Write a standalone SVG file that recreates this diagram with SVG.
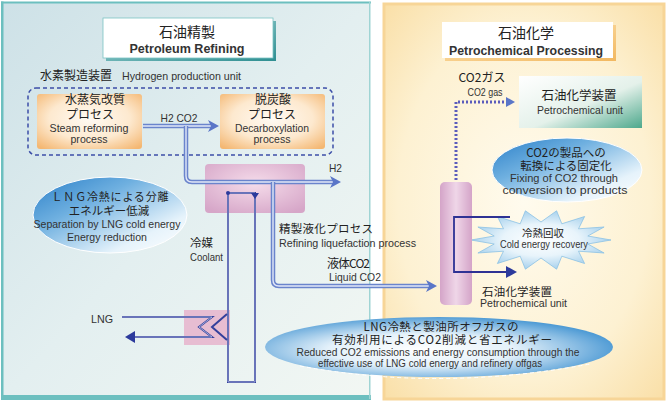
<svg xmlns="http://www.w3.org/2000/svg" width="668" height="407" viewBox="0 0 668 407">
<defs>
<linearGradient id="gLeft" x1="0" y1="0" x2="1" y2="1"><stop offset="0" stop-color="#cde1e7"/><stop offset="0.5" stop-color="#e3eff0"/><stop offset="1" stop-color="#f2f7f3"/></linearGradient>
<radialGradient id="gRight" cx="0.5" cy="0.5" r="0.75"><stop offset="0" stop-color="#fffbee"/><stop offset="0.6" stop-color="#fdf1d2"/><stop offset="1" stop-color="#f9dca0"/></radialGradient>
<radialGradient id="gOrange" cx="0.5" cy="0.45" r="0.7"><stop offset="0" stop-color="#fffaf3"/><stop offset="0.55" stop-color="#fde9cf"/><stop offset="1" stop-color="#f4b772"/></radialGradient>
<radialGradient id="gPink" cx="0.5" cy="0.4" r="0.7"><stop offset="0" stop-color="#f5dcea"/><stop offset="1" stop-color="#d6a6c8"/></radialGradient>
<linearGradient id="gCol" x1="0" y1="0" x2="1" y2="0"><stop offset="0" stop-color="#d4a4c8"/><stop offset="0.5" stop-color="#efd6e8"/><stop offset="1" stop-color="#d4a4c8"/></linearGradient>
<linearGradient id="gGreen" x1="0" y1="0" x2="1" y2="1"><stop offset="0" stop-color="#ffffff"/><stop offset="0.55" stop-color="#e4f1ea"/><stop offset="1" stop-color="#4da88c"/></linearGradient>
<linearGradient id="gBlue" x1="0" y1="0" x2="1" y2="1"><stop offset="0" stop-color="#2a7fc8"/><stop offset="0.35" stop-color="#6fb0e0"/><stop offset="0.75" stop-color="#e6f3fb"/><stop offset="1" stop-color="#ffffff"/></linearGradient>
<radialGradient id="gBlueWide" cx="0.45" cy="0.55" r="0.6"><stop offset="0" stop-color="#ffffff"/><stop offset="0.45" stop-color="#e4f1fa"/><stop offset="1" stop-color="#3c90d0"/></radialGradient>
<radialGradient id="gStar" cx="0.5" cy="0.5" r="0.55"><stop offset="0" stop-color="#ffffff"/><stop offset="0.5" stop-color="#e8f4fb"/><stop offset="1" stop-color="#9ccbea"/></radialGradient>
<linearGradient id="gTealShadow" x1="0" y1="0" x2="1" y2="1"><stop offset="0" stop-color="#a8d8d8"/><stop offset="1" stop-color="#2f8f92"/></linearGradient>
<linearGradient id="gOrShadow" x1="0" y1="0" x2="1" y2="1"><stop offset="0" stop-color="#fde6b8"/><stop offset="1" stop-color="#f2b860"/></linearGradient>
<style>
.jp{font-family:"Noto Sans CJK JP","Noto Sans",sans-serif;fill:#222;}
.en{font-family:"Liberation Sans","Noto Sans",sans-serif;fill:#333;}
.mid{text-anchor:middle;}
.pipeO{fill:none;stroke:#6a84cc;stroke-width:4.5;stroke-linejoin:round;}
.pipeI{fill:none;stroke:#e2e8f8;stroke-width:1.4;stroke-linejoin:round;}
.ah{fill:#5a76c8;}
.navy{fill:none;stroke:#34409c;stroke-width:2;}
.navyI{fill:none;stroke:#cdd6f0;stroke-width:0.7;}
.ahN{fill:#2c3a9c;}
</style>
</defs>

<!-- panels -->
<g id="panel-left">
<rect x="2" y="2" width="368" height="397" fill="url(#gLeft)"/>
<rect x="1" y="1.5" width="370" height="2" fill="#6cbfbf"/>
<rect x="1" y="1.5" width="2.5" height="398" fill="#6cbfbf"/>
<rect x="1" y="395" width="370" height="5" fill="#6cbfbf"/>
<rect x="369" y="2" width="1.5" height="397" fill="#9fd4d4"/>
</g>
<g id="panel-right">
<rect x="384" y="4" width="280" height="395" fill="url(#gRight)" stroke="#f7d597" stroke-width="3"/>
</g>

<!-- titles -->
<g id="title-left">
<rect x="106" y="21" width="170" height="40" fill="url(#gTealShadow)"/>
<rect x="103" y="18" width="170" height="40" fill="#ffffff" stroke="#7cc4c4" stroke-width="0.8"/>
<text class="jp mid" x="187" y="37" font-size="14">石油精製</text>
<text class="en mid" x="187" y="53" font-size="13" font-weight="bold" textLength="115" lengthAdjust="spacingAndGlyphs" fill="#222">Petroleum Refining</text>
</g>
<g id="title-right">
<rect x="445" y="25" width="171" height="36" fill="url(#gOrShadow)"/>
<rect x="442" y="22" width="171" height="36" fill="#ffffff"/>
<text class="jp mid" x="526" y="38" font-size="14">石油化学</text>
<text class="en mid" x="526" y="55" font-size="13" font-weight="bold" textLength="154" lengthAdjust="spacingAndGlyphs" fill="#222">Petrochemical Processing</text>
</g>

<!-- hydrogen production unit -->
<g id="hydrogen-unit">
<text class="jp" x="40" y="80" font-size="12">水素製造装置</text>
<text class="en" x="122" y="80" font-size="11" textLength="119" lengthAdjust="spacingAndGlyphs">Hydrogen production unit</text>
<rect x="28" y="88" width="305" height="67" rx="8" fill="none" stroke="#3c4ea8" stroke-width="1.5" stroke-dasharray="4 3"/>
</g>
<g id="steam-reforming">
<rect x="37" y="94" width="105" height="55" rx="3" fill="url(#gOrange)"/>
<text class="jp mid" x="95" y="104" font-size="12">水蒸気改質</text>
<text class="jp mid" x="90" y="118.5" font-size="12">プロセス</text>
<text class="en mid" x="89" y="132" font-size="11" textLength="79" lengthAdjust="spacingAndGlyphs">Steam reforming</text>
<text class="en mid" x="89" y="143" font-size="11" textLength="37" lengthAdjust="spacingAndGlyphs">process</text>
</g>
<g id="decarboxylation">
<rect x="220" y="94" width="105" height="55" rx="3" fill="url(#gOrange)"/>
<text class="jp mid" x="273" y="104" font-size="12">脱炭酸</text>
<text class="jp mid" x="272" y="118.5" font-size="12">プロセス</text>
<text class="en mid" x="272" y="132" font-size="11" textLength="74" lengthAdjust="spacingAndGlyphs">Decarboxylation</text>
<text class="en mid" x="272" y="143" font-size="11" textLength="37" lengthAdjust="spacingAndGlyphs">process</text>
</g>

<!-- refining liquefaction -->
<g id="refining-liquefaction">
<rect x="205" y="164" width="100" height="49" rx="4" fill="url(#gPink)"/>
<text class="jp" x="279" y="233" font-size="11.5" textLength="94" lengthAdjust="spacing">精製液化プロセス</text>
<text class="en" x="279" y="247" font-size="11" textLength="137" lengthAdjust="spacingAndGlyphs">Refining liquefaction process</text>
</g>

<!-- LNG exchanger -->
<g id="lng-exchanger">
<rect x="184" y="310" width="46" height="35" fill="#e6b4cc" fill-opacity="0.85"/>
<text class="en" x="91" y="323" font-size="10.5" textLength="22" lengthAdjust="spacingAndGlyphs">LNG</text>
</g>

<!-- coolant -->
<g id="coolant">
<text class="jp" x="190" y="247" font-size="11.5">冷媒</text>
<text class="en" x="190" y="261" font-size="11" textLength="33" lengthAdjust="spacingAndGlyphs">Coolant</text>
</g>

<!-- LNG ellipse -->
<g id="lng-separation">
<ellipse cx="110" cy="215" rx="77" ry="38" fill="url(#gBlue)" stroke="#ffffff" stroke-width="1"/>
<text class="jp mid" x="110" y="201" font-size="11" textLength="117" lengthAdjust="spacing">ＬＮＧ冷熱による分離</text>
<text class="jp mid" x="109" y="215" font-size="11.5">エネルギー低減</text>
<text class="en mid" x="107" y="228" font-size="11" textLength="147" lengthAdjust="spacingAndGlyphs">Separation by LNG cold energy</text>
<text class="en mid" x="107" y="241" font-size="11" textLength="80" lengthAdjust="spacingAndGlyphs">Energy reduction</text>
</g>

<!-- right side -->
<g id="co2-gas">
<text class="jp mid" x="482" y="82" font-size="12">CO2ガス</text>
<text class="en mid" x="485" y="96" font-size="10.5" textLength="35" lengthAdjust="spacingAndGlyphs">CO2 gas</text>
</g>
<g id="petrochemical-unit-top">
<rect x="519" y="76" width="123" height="52" fill="url(#gGreen)"/>
<text class="jp mid" x="579" y="100" font-size="12.5">石油化学装置</text>
<text class="en mid" x="580" y="114" font-size="11" textLength="86" lengthAdjust="spacingAndGlyphs">Petrochemical unit</text>
</g>
<g id="co2-fixing">
<ellipse cx="567" cy="170" rx="75" ry="32" fill="url(#gBlue)" stroke="#ffffff" stroke-width="1"/>
<text class="jp mid" x="566" y="156.5" font-size="11.5">CO2の製品への</text>
<text class="jp mid" x="566" y="170" font-size="11.5">転換による固定化</text>
<text class="en mid" x="564" y="182" font-size="10.5" textLength="108" lengthAdjust="spacingAndGlyphs">Fixing of CO2 through</text>
<text class="en mid" x="565" y="194" font-size="10.5" textLength="125" lengthAdjust="spacingAndGlyphs">conversion to products</text>
</g>
<g id="cold-energy-recovery">
<polygon points="611,240 587.8,244 604.1,253 578.5,251.2 584.6,263.5 561.8,256.2 556.6,269.2 541,258 525.4,269.2 520.2,256.2 497.4,263.5 503.5,251.2 477.9,253 494.2,244 471,240 494.2,236 477.9,227 503.5,228.8 497.4,216.5 520.2,223.8 525.4,210.8 541,222 556.6,210.8 561.8,223.8 584.6,216.5 578.5,228.8 604.1,227 587.8,236" fill="url(#gStar)" stroke="#8cc2e4" stroke-width="0.8"/>
<text class="jp mid" x="543" y="237" font-size="10.5">冷熱回収</text>
<text class="en mid" x="544" y="248" font-size="10" textLength="88" lengthAdjust="spacingAndGlyphs">Cold energy recovery</text>
</g>
<g id="petrochemical-unit-bottom">
<rect x="440" y="182" width="32" height="123" rx="5" fill="url(#gCol)"/>
<text class="jp" x="482" y="296" font-size="11.5" textLength="70" lengthAdjust="spacing">石油化学装置</text>
<text class="en" x="480" y="307" font-size="11" textLength="87" lengthAdjust="spacingAndGlyphs">Petrochemical unit</text>
</g>
<g id="lng-offgas">
<ellipse cx="439" cy="347" rx="174" ry="30" fill="url(#gBlueWide)"/>
<path d="M300,366 Q439,392 590,364" fill="none" stroke="#ffffff" stroke-width="1" stroke-dasharray="4 3"/>
<text class="jp mid" x="441" y="331" font-size="11.5" textLength="155" lengthAdjust="spacing">LNG冷熱と製油所オフガスの</text>
<text class="jp mid" x="442" y="344" font-size="11.5" textLength="220" lengthAdjust="spacing">有効利用によるCO2削減と省エネルギー</text>
<text class="en mid" x="438" y="356" font-size="10.5" textLength="283" lengthAdjust="spacingAndGlyphs">Reduced CO2 emissions and energy consumption through the</text>
<text class="en mid" x="430" y="367" font-size="10.5" textLength="224" lengthAdjust="spacingAndGlyphs">effective use of LNG cold energy and refinery offgas</text>
</g>

<!-- connectors -->
<g id="connectors">
<!-- H2 CO2 -->
<text class="en mid" x="179" y="122" font-size="10.5" textLength="37" lengthAdjust="spacingAndGlyphs">H2 CO2</text>
<path class="pipeO" d="M143,126 H211"/>
<path class="pipeI" d="M143,126 H211"/>
<polygon class="ah" points="208,120 219,126 208,132 211,126"/>
<!-- H2 -->
<text class="en" x="329" y="172" font-size="10.5" textLength="13" lengthAdjust="spacingAndGlyphs">H2</text>
<path class="pipeO" d="M186,126 V176 Q186,182 192,182 H333"/>
<path class="pipeI" d="M186,126 V176 Q186,182 192,182 H333"/>
<polygon class="ah" points="330,176 341,182 330,188 333,182"/>
<!-- Liquid CO2 -->
<text class="jp" x="327" y="268" font-size="12" textLength="43" lengthAdjust="spacing">液体CO2</text>
<text class="en" x="329" y="281" font-size="11" textLength="52" lengthAdjust="spacingAndGlyphs">Liquid CO2</text>
<path class="pipeO" d="M273,182 V280 Q273,286 279,286 H429"/>
<path class="pipeI" d="M273,182 V280 Q273,286 279,286 H429"/>
<polygon class="ah" points="426,280 437,286 426,292 429,286"/>
<!-- coolant loop -->
<path class="navy" d="M228,382 V193 H255 V382 Z"/>
<path class="navyI" d="M228,382 V193 H255 V382 Z"/>
<polygon class="ahN" points="251,193 259,193 255,199"/>
<circle cx="228" cy="193" r="2" fill="#2c3a9c"/>
<!-- LNG line -->
<path class="navy" d="M122,317 H212 L199,327 L212,337 H130" stroke="#5a68b8" stroke-width="2.6"/>
<path class="navyI" d="M122,317 H212 L199,327 L212,337 H130"/>
<path class="navy" d="M227,314 L212,327 L227,340" stroke="#5a68b8"/>
<polygon class="ahN" points="125,337 135,331 135,343"/>
<!-- CO2 gas dotted -->
<path d="M456,180 V102 H507" fill="none" stroke="#5b5cbc" stroke-width="3" stroke-dasharray="2 2"/>
<polygon class="ah" points="506,97 515,102 506,107"/>
<!-- petrochem loop -->
<path d="M510,217 H454 V272 H508" fill="none" stroke="#2e3294" stroke-width="1.8"/>
<polygon class="ahN" points="506,266 517,272 506,278"/>
</g>
</svg>
